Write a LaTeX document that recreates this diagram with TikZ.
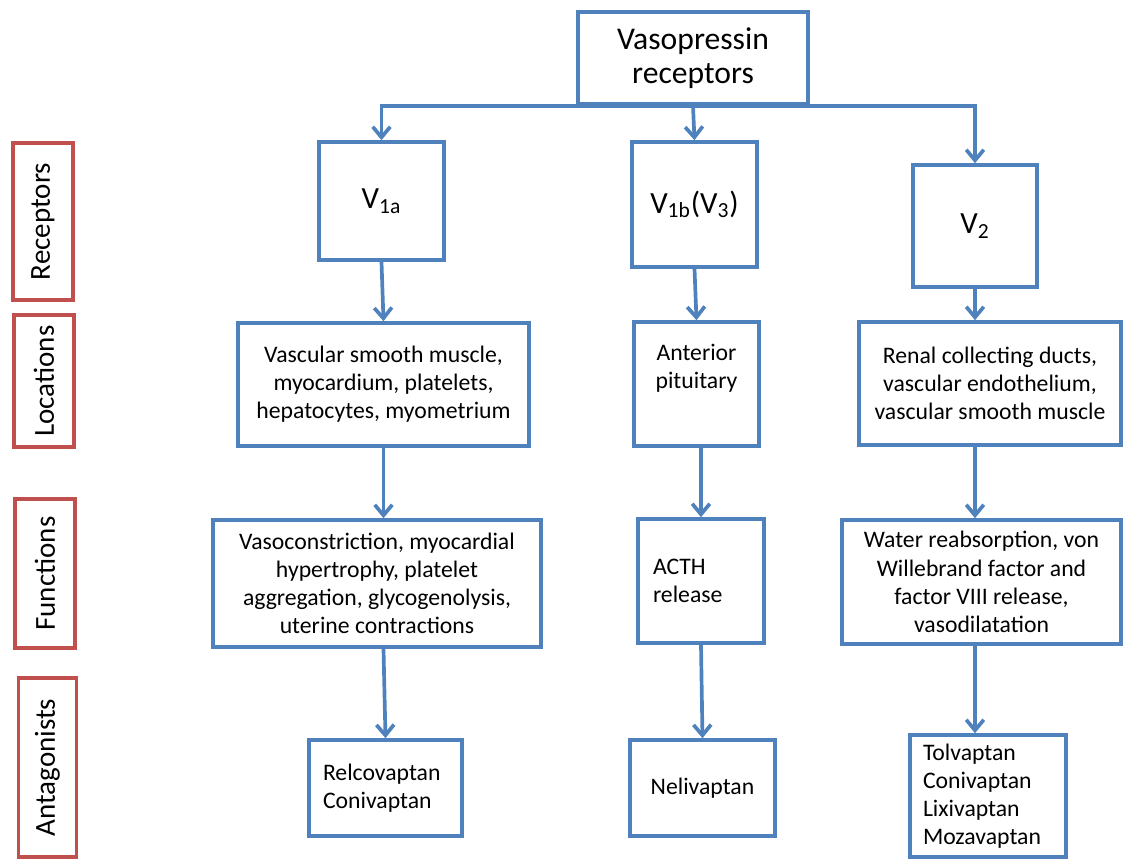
\documentclass[tikz,border=0pt]{standalone}
\usepackage{fontspec}
\setmainfont{Carlito}
\usetikzlibrary{arrows.meta}
\definecolor{boxblue}{HTML}{4F81BD}
\definecolor{labelred}{HTML}{C0504D}

\begin{document}
\begin{tikzpicture}[x=0.02cm,y=-0.02cm,
	bluebox/.style={draw=boxblue, line width=2.1pt, fill=white, inner sep=3pt, align=center, font=\fontsize{13.5}{16}\selectfont},
	vfont/.style={font=\fontsize{17.5}{20}\selectfont},
	redbox/.style={draw=labelred, line width=2.1pt, fill=white, inner sep=0pt, font=\fontsize{16.5}{19}\selectfont},
	flow/.style={draw=boxblue, line width=2.1pt, -{Straight Barb[length=6pt,width=10pt]}}]
				\useasboundingbox (0,0) rectangle (1123,859);
				\node[bluebox, font=\fontsize{18}{19.5}\selectfont, minimum width=4.6cm, minimum height=1.84cm] (top) at (693,58) {Vasopressin\\receptors};
				\node[bluebox, vfont, minimum width=2.5cm, minimum height=2.36cm] (v1a) at (381.5,201) {V\textsubscript{1a}};
				\node[bluebox, vfont, minimum width=2.5cm, minimum height=2.5cm] (v1b) at (694.5,204.5) {V\textsubscript{1b}(V\textsubscript{3})};
				\node[bluebox, vfont, minimum width=2.48cm, minimum height=2.44cm] (v2) at (975,226) {V\textsubscript{2}};
				\node[bluebox, minimum width=5.82cm, minimum height=2.46cm] (loc1) at (383.5,384.5) {Vascular smooth muscle,\\myocardium, platelets,\\hepatocytes, myometrium};
				\node[bluebox, inner sep=0pt, minimum width=2.5cm, minimum height=2.48cm] (loc2) at (696.5,384) {\parbox[c][2.3cm][t]{2.3cm}{\centering\vspace*{0.35cm}Anterior\\pituitary}};
				\node[bluebox, minimum width=5.24cm, minimum height=2.46cm] (loc3) at (990,383.5) {Renal collecting ducts,\\vascular endothelium,\\vascular smooth muscle};
				\node[bluebox, minimum width=6.56cm, minimum height=2.54cm] (fun1) at (377,583.5) {Vasoconstriction, myocardial\\hypertrophy, platelet\\aggregation, glycogenolysis,\\uterine contractions};
				\node[bluebox, align=left, text width=1.92cm, inner xsep=0.3cm, minimum height=2.48cm] (fun2) at (701,581) {ACTH\\release};
				\node[bluebox, minimum width=5.58cm, minimum height=2.48cm] (fun3) at (981.5,582) {Water reabsorption, von\\Willebrand factor and\\factor VIII release,\\vasodilatation};
				\node[bluebox, align=left, text width=2.5cm, inner xsep=0.28cm, minimum height=1.92cm] (ant1) at (385.5,788) {Relcovaptan\\Conivaptan};
				\node[bluebox, minimum width=2.9cm, minimum height=1.92cm] (ant2) at (702.5,788) {Nelivaptan};
				\node[bluebox, align=left, text width=2.6cm, inner xsep=0.26cm, minimum height=2.44cm] (ant3) at (988,796) {Tolvaptan\\Conivaptan\\Lixivaptan\\Mozavaptan};
				\node[redbox, rotate=90, minimum width=3.14cm, minimum height=1.2cm] (rec) at (43,221.5) {Receptors};
				\node[redbox, rotate=90, minimum width=2.64cm, minimum height=1.2cm] (loc) at (44,381) {Locations};
				\node[redbox, rotate=90, minimum width=2.98cm, minimum height=1.2cm] (fun) at (45,573.5) {Functions};
				\node[redbox, rotate=90, minimum width=3.58cm, minimum height=1.16cm] (ant) at (47.5,767.5) {Antagonists};
				\draw[flow] (top.south) -| (v1a.north);
				\draw[flow] (top.south) -- (v1b.north);
				\draw[flow] (top.south) -| (v2.north);
				\draw[flow] (v1a.south) -- (loc1.north);
				\draw[flow] (loc1.south) -- (loc1.south |- fun1.north);
				\draw[flow] (loc1.south |- fun1.south) -- (ant1.north);
				\draw[flow] (v1b.south) -- (loc2.north);
				\draw[flow] (fun2.north |- loc2.south) -- (fun2.north);
				\draw[flow] (fun2.south) -- (ant2.north);
				\draw[flow] (v2.south) -- (v2.south |- loc3.north);
				\draw[flow] (v2.south |- loc3.south) -- (v2.south |- fun3.north);
				\draw[flow] (v2.south |- fun3.south) -- (v2.south |- ant3.north);
\end{tikzpicture}
\end{document}
